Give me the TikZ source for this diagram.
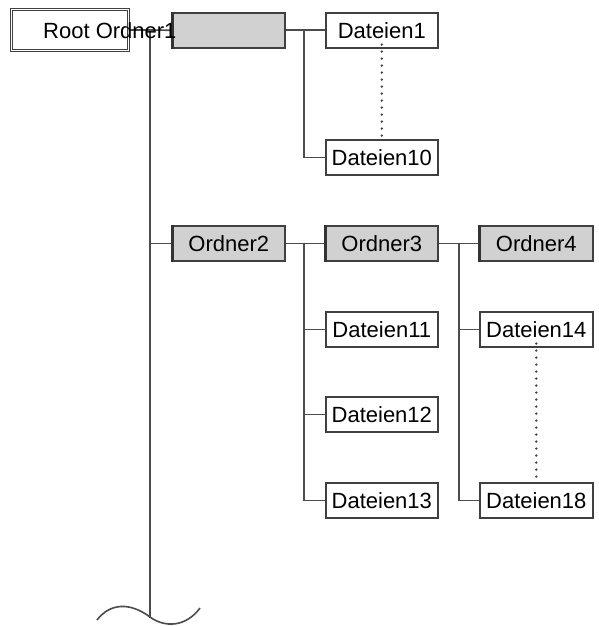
\documentclass[tikz,border=0pt]{standalone}
\usepackage{fontspec}
\setmainfont{Liberation Sans}
\begin{document}
\begin{tikzpicture}[x=1pt,y=-1pt,
  box/.style={draw=black!75, line width=1.6pt, minimum width=112pt, minimum height=35pt,
    inner sep=0pt, font=\fontsize{22}{24}\selectfont, anchor=north west},
  folder/.style={box, fill=black!18},
  conn/.style={draw=black!70, line width=1.6pt},
  dots/.style={draw=black!75, line width=2.6pt, line cap=round, dash pattern=on 0pt off 7pt}]
\useasboundingbox (0,0) rectangle (598,626);
% boxes
\node[draw=black!75, line width=1.1pt, double, double distance=1.6pt, minimum width=117pt, minimum height=41pt, inner sep=0pt] (rootbox) at (70,30) {};
\node[folder] (O1) at (172,12) {};
\node[box] (D1) at (325,12) {Dateien1};
\node[box] (D10) at (325,139) {Dateien10};
\node[folder] (O2) at (172,225) {Ordner2};
\node[folder] (O3) at (325,225) {Ordner3};
\node[folder, minimum width=113pt] (O4) at (479,225) {Ordner4};
\node[box] (D11) at (325,311) {Dateien11};
\node[box] (D12) at (325,396) {Dateien12};
\node[box] (D13) at (325,482) {Dateien13};
\node[box, minimum width=113pt] (D14) at (479,311) {Dateien14};
\node[box, minimum width=113pt] (D18) at (479,482) {Dateien18};
% connectors
\coordinate (trunktop) at (150,30);
\coordinate (trunkbot) at (150,618);
\coordinate (j1) at (304,29.5);
\coordinate (j2) at (304,242.5);
\coordinate (j3) at (459,242.5);
\draw[conn] (rootbox.east) -- (trunktop) -- (trunkbot);
\draw[conn] (trunktop) -- (O1.west);
\draw[conn] (O2.west -| trunktop) -- (O2.west);
\draw[conn] (O1.east) -- (D1.west);
\draw[conn] (j1) |- (D10.west);
\draw[conn] (O2.east) -- (O3.west);
\draw[conn] (j2) |- (D11.west);
\draw[conn] (j2) |- (D12.west);
\draw[conn] (j2) |- (D13.west);
\draw[conn] (O3.east) -- (O4.west);
\draw[conn] (j3) |- (D14.west);
\draw[conn] (j3) |- (D18.west);
\draw[dots] ([yshift=4pt]D1.south) -- (D10.north);
\draw[dots] ([yshift=4pt]D14.south) -- (D18.north);
% thicker left edges of folders
\foreach \n in {O1,O2,O3,O4}
  \draw[black!80, line width=2.6pt] ([xshift=0.6pt]\n.north west) -- ([xshift=0.6pt]\n.south west);
% wave
\draw[conn] (97,620) .. controls (110,603) and (130,602) .. (150,617) .. controls (165,628) and (186,627) .. (200,608);
% root text
\node[anchor=west, inner sep=0pt, font=\fontsize{22}{24}\selectfont] (roottext) at (43,30.5) {Root Ordner1};
\end{tikzpicture}
\end{document}
